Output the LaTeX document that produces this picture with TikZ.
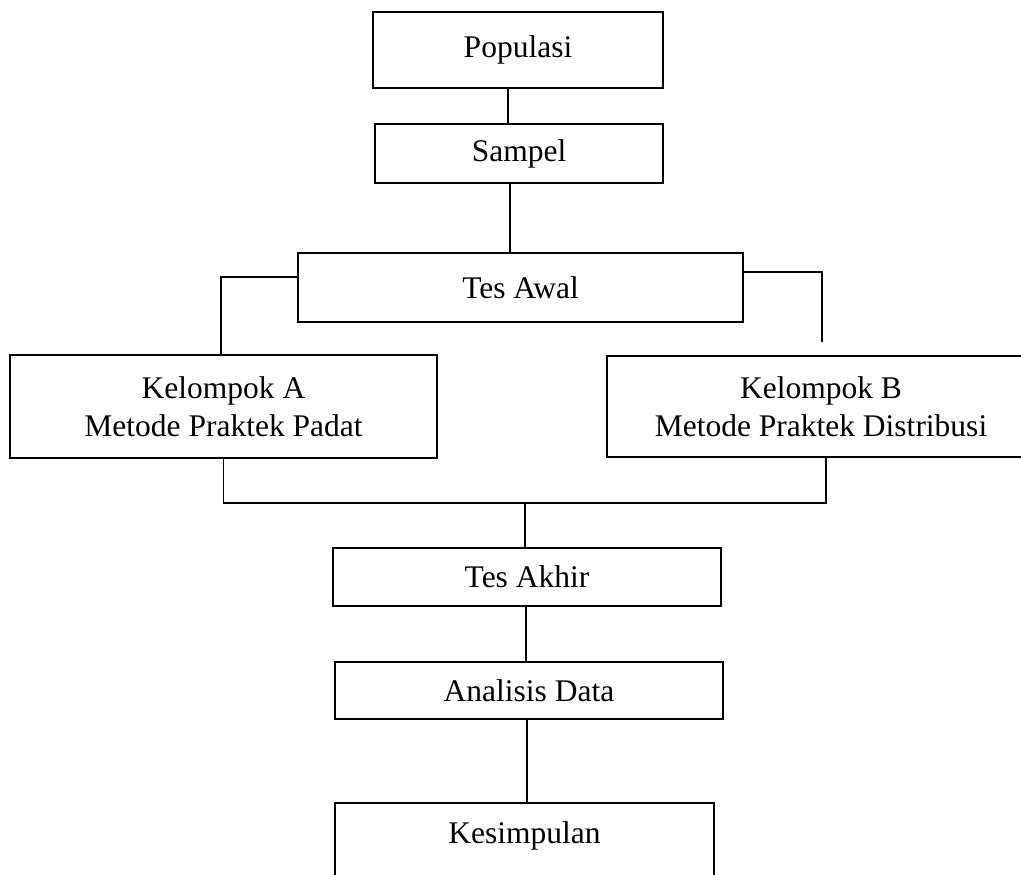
\documentclass[tikz,border=0pt]{standalone}
\usepackage{fontspec}
\setmainfont{Liberation Serif}
\begin{document}
\begin{tikzpicture}[x=1pt,y=-1pt,
  box/.style={draw, line width=1.3pt, inner sep=0pt, align=center,
    font=\fontsize{31.5}{38}\selectfont},
  conn/.style={line width=1.3pt}]
\useasboundingbox (0,0) rectangle (1021,875);
\node[box, minimum width=290pt, minimum height=76pt] (pop) at (518,50) {Populasi};
\node[box, minimum width=288pt, minimum height=59pt] (sam) at (519,153.5) {Sampel};
\node[box, minimum width=445pt, minimum height=69pt] (awal) at (520.5,287.5) {Tes Awal};
\node[box, minimum width=427pt, minimum height=103pt] (ka) at (223.5,406.5) {Kelompok A\\Metode Praktek Padat};
\node[box, minimum width=428pt, minimum height=101pt] (kb) at (821,406.5) {Kelompok B\\Metode Praktek Distribusi};
\node[box, minimum width=388pt, minimum height=58pt] (akhir) at (527,577) {Tes Akhir};
\node[box, minimum width=388pt, minimum height=57pt] (anal) at (529,690.5) {Analisis Data};
\node[box, minimum width=379pt, minimum height=87pt, text height=22pt, text depth=29pt] (kes) at (524.5,846.5) {Kesimpulan};
\coordinate (jn) at (525,503);
\draw[conn] ([xshift=-10pt]pop.south) -- ([xshift=-11pt]sam.north);
\draw[conn] ([xshift=-9pt]sam.south) -- ([xshift=-10.5pt]awal.north);
\draw[conn] ([yshift=10.5pt]awal.west) -| ([xshift=-2.5pt]ka.north);
\draw[conn] ([yshift=15.5pt]awal.east) -| ([xshift=1pt,yshift=13pt]kb.north);
\draw[conn] (ka.south) |- (jn) -| ([xshift=5pt]kb.south);
\draw[conn] (jn) -- ([xshift=-2pt]akhir.north);
\draw[conn] ([xshift=-1pt]akhir.south) -- ([xshift=-3pt]anal.north);
\draw[conn] ([xshift=-2pt]anal.south) -- ([xshift=2.5pt]kes.north);
\end{tikzpicture}
\end{document}
